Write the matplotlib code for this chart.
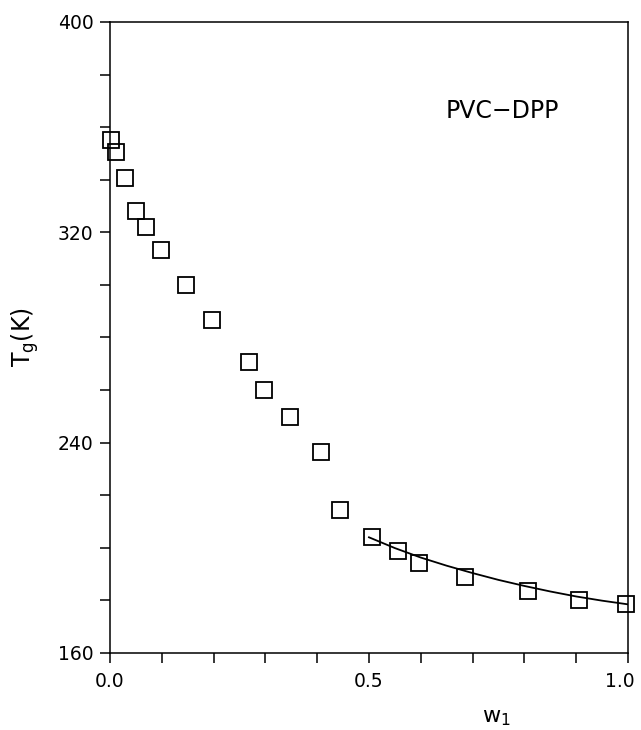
import matplotlib.pyplot as plt
import matplotlib.transforms as mtransforms
import numpy as np

# measured points (w1, Tg in K)
w1 = [0.002, 0.012, 0.029, 0.050, 0.069, 0.098, 0.147, 0.197, 0.268, 0.297,
      0.347, 0.407, 0.444, 0.506, 0.556, 0.597, 0.685, 0.807, 0.905, 0.997]
tg = [355.1, 350.6, 340.7, 328.1, 322.0, 313.3, 300.0, 286.6, 270.7, 260.0,
      249.8, 236.4, 214.4, 204.1, 198.8, 194.2, 188.9, 183.6, 180.1, 178.6]

# fitted curve
fit_w = [0.50, 0.55, 0.60, 0.65, 0.70, 0.75, 0.80, 0.85, 0.90, 0.95, 1.00]
fit_t = [204.0, 199.9, 196.3, 193.2, 190.4, 187.8, 185.5, 183.4, 181.5, 179.9, 178.5]

plt.rcParams['font.family'] = ['DejaVu Sans']

fig = plt.figure(figsize=(6.41, 7.30), dpi=100)
ax = fig.add_axes([0.1716, 0.1055, 0.808, 0.8644])

ax.plot(fit_w, fit_t, color='black', linewidth=1.3)
ax.plot(w1, tg, linestyle='none', marker='s', markersize=11.5,
        markerfacecolor='none', markeredgecolor='black', markeredgewidth=1.3,
        clip_on=False)

ax.set_xlim(0, 1.0)
ax.set_ylim(160, 400)
ax.set_xticks([0.0, 0.5, 1.0])
ax.set_xticklabels(['0.0', '0.5', '1.0'])
ax.set_xticks(np.arange(0, 1.01, 0.1), minor=True)
ax.set_yticks([160, 240, 320, 400])
ax.set_yticks(np.arange(160, 401, 20), minor=True)

ax.tick_params(which='both', direction='out', length=7, width=1.1, labelsize=13.5)
ax.tick_params(axis='x', pad=7)
ax.tick_params(axis='y', pad=5)
for s in ax.spines.values():
    s.set_linewidth(1.1)

# the last x label sits a bit left of its tick, as in the original
last = ax.get_xticklabels()[-1]
last.set_transform(last.get_transform() +
                   mtransforms.ScaledTranslation(-8 / 100, 0, fig.dpi_scale_trans))

ax.text(0.757, 366, 'PVC\u2212DPP', fontsize=17, ha='center', va='center')
ax.set_ylabel('T$_\\mathregular{g}$(K)', fontsize=17, labelpad=12)
ax.text(0.747, -0.103, 'w$_\\mathregular{1}$', fontsize=16, ha='center', va='center',
        transform=ax.transAxes)

fig.savefig('out.png', dpi=100)
